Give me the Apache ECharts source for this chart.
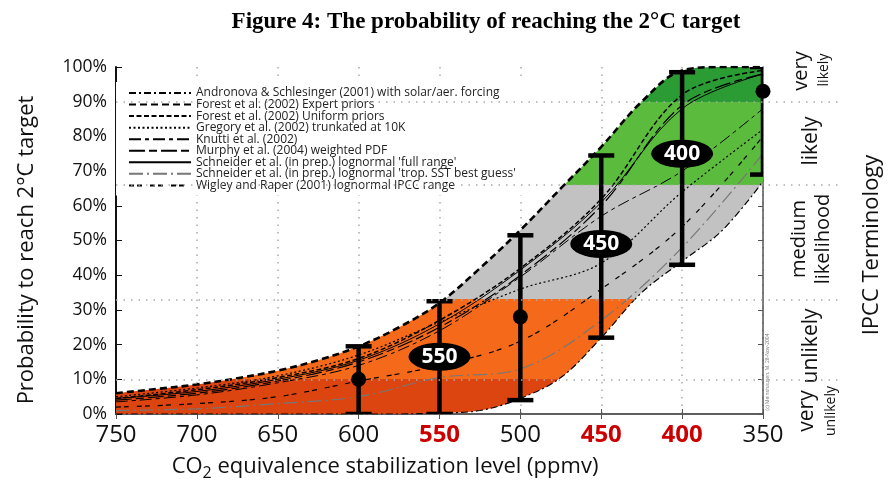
<!DOCTYPE html>
<html>
<head>
<meta charset="utf-8">
<title>Probability of reaching the 2°C target</title>
<script src="https://cdn.jsdelivr.net/npm/echarts@6/dist/echarts.min.js"></script>
<style>
  html, body { margin: 0; padding: 0; background: #fff; }
  #chart { width: 892px; height: 481px; }
</style>
</head>
<body>
<div id="chart"></div>
<script>
// CO2-eq stabilization levels (ppmv), x axis runs 750 -> 350
const envLevels = [750, 725, 700, 675, 650, 625, 600, 575, 550, 525, 500, 475, 450, 425, 400, 375, 350]
// edges of the shaded range (%)
const envUpper = [6, 7.2, 8.5, 10.3, 12.5, 15.5, 19.5, 25, 32, 42, 53, 65, 77, 90, 99, 100, 100]
const envLower = [0, 0, 0, 0, 0, 0, 0, 0, 0.3, 1, 4.5, 10.5, 22, 35, 44, 53, 67]

// single studies, read every 50 ppmv
const levels = [750, 700, 650, 600, 550, 500, 450, 400, 350]
const forestUniform = [4.5, 7, 10.5, 16, 27, 42, 62, 92, 99]
const gregory = [5, 7.5, 11, 17, 26.5, 36, 43.5, 64, 82]
const knutti = [3.5, 5.5, 9, 14, 24, 39.5, 57, 70, 88]
const murphy = [4, 6, 9.5, 15, 25, 40, 60, 89, 98]
const schneiderFull = [4.5, 6.5, 10, 15.5, 26, 41.5, 61, 88, 98]
const schneiderSST = [1, 1.5, 3, 5, 10.5, 13, 27, 48, 75]
const wigley = [2, 3, 5, 9.5, 14, 21, 36, 54, 80]

// ranges marked with bars
const barLevels = [600, 550, 500, 450, 400, 350]
const barLow = [0, 0, 4, 22, 43, 69]
const barHigh = [19.5, 32.5, 51.5, 74.5, 98.5, 100]
const dotLevels = [600, 500, 350]
const dotValues = [10, 28, 93]
const tagLevels = [550, 450, 400]
const tagValues = [16.5, 49, 75]

const redLevels = [550, 450, 400]
const ipccThresholds = [10, 33, 66, 90]

const studyNames = [
  'Andronova & Schlesinger (2001) with solar/aer. forcing',
  'Forest et al. (2002) Expert priors',
  'Forest et al. (2002) Uniform priors',
  'Gregory et al. (2002) trunkated at 10K',
  'Knutti et al. (2002)',
  'Murphy et al. (2004) weighted PDF',
  "Schneider et al. (in prep.) lognormal 'full range'",
  "Schneider et al. (in prep.) lognormal 'trop. SST best guess'",
  'Wigley and Raper (2001) lognormal IPCC range'
]

const FONT = 'Open Sans'
const SMOOTH = 0.35
const pairs = (xs, ys) => xs.map((x, i) => [x, ys[i]])
// 概率放在第一维，堆叠才会沿 y 方向
const yFirst = (xs, ys) => xs.map((x, i) => [ys[i], x])

// 一条研究曲线
const studyLine = (name, xs, ys, type, width, color) => ({
  name,
  type: 'line',
  xAxisIndex: 0,
  yAxisIndex: 0,
  data: pairs(xs, ys),
  smooth: SMOOTH,
  symbol: 'none',
  silent: true,
  z: 3,
  lineStyle: { color: color || '#000', width: width, type: type }
})

// 竖排文字（右侧 IPCC 术语）
const sideText = (text, x, y, size) => ({
  type: 'text', x, y, rotation: Math.PI / 2,
  style: { text, fontFamily: FONT, fontSize: size, fill: '#111', align: 'center', verticalAlign: 'middle' }
})

const chart = echarts.init(document.getElementById('chart'))

const option = {
  animation: false,
  backgroundColor: '#fff',
  grid: [
    { left: 116, right: 129, top: 67, bottom: 67 },
    { left: 116, right: 52, top: 67, bottom: 67 }
  ],
  legend: {
    orient: 'vertical',
    left: 116,
    top: 82,
    padding: [5, 30, 4, 12],
    backgroundColor: '#fff',
    itemWidth: 62,
    itemHeight: 8,
    itemGap: -0.45,
    itemStyle: { opacity: 0 },
    textStyle: { fontFamily: FONT, fontSize: 12, color: '#222', lineHeight: 10 },
    data: studyNames
  },
  xAxis: [
    {
      gridIndex: 0, type: 'value', min: 350, max: 750, interval: 50, inverse: true,
      axisLine: { lineStyle: { color: '#555', width: 1.5 } },
      axisTick: { inside: true, length: 5, lineStyle: { color: '#555' } },
      axisLabel: {
        margin: 9,
        formatter: v => (redLevels.includes(v) ? '{r|' + v + '}' : '{n|' + v + '}'),
        rich: {
          n: { fontFamily: FONT, fontSize: 24, color: '#111' },
          r: { fontFamily: FONT, fontSize: 24, color: '#cc0000', fontWeight: 'bold' }
        }
      },
      splitLine: { show: true, lineStyle: { color: '#aaa', width: 1.5, type: [1.5, 6] } }
    },
    {
      gridIndex: 0, type: 'value', min: 350, max: 750, interval: 50, inverse: true, position: 'top',
      axisLine: { lineStyle: { color: '#555', width: 1.5 } },
      axisTick: { inside: true, length: 5, lineStyle: { color: '#555' } },
      axisLabel: { show: false },
      splitLine: { show: false }
    },
    { gridIndex: 1, type: 'value', min: 0, max: 1, show: false }
  ],
  yAxis: [
    {
      gridIndex: 0, type: 'value', min: 0, max: 100, interval: 10,
      axisLine: { show: true, lineStyle: { color: '#111', width: 2 } },
      axisTick: { show: true, inside: true, length: 6, lineStyle: { color: '#111' } },
      axisLabel: { formatter: '{value}%', fontFamily: FONT, fontSize: 17.5, color: '#111', margin: 9 },
      splitLine: { show: false }
    },
    {
      gridIndex: 0, type: 'value', min: 0, max: 100, interval: 10, position: 'right',
      axisLine: { show: true, lineStyle: { color: '#555', width: 1.5 } },
      axisTick: { show: true, inside: true, length: 5, lineStyle: { color: '#555' } },
      axisLabel: { show: false },
      splitLine: { show: false }
    },
    { gridIndex: 1, type: 'value', min: 0, max: 100, show: false }
  ],
  series: [
    // 阴影范围：下沿 + 差值堆叠
    {
      id: 'envBase', type: 'line', stack: 'env',
      data: yFirst(envLevels, envLower),
      encode: { x: 1, y: 0 },
      smooth: SMOOTH, symbol: 'none', silent: true, z: 2,
      lineStyle: { width: 0, opacity: 0 }
    },
    {
      id: 'envBand', type: 'line', stack: 'env',
      data: yFirst(envLevels, envUpper.map((v, i) => v - envLower[i])),
      encode: { x: 1, y: 0 },
      smooth: SMOOTH, symbol: 'none', silent: true, z: 2,
      lineStyle: { width: 0, opacity: 0 },
      areaStyle: { color: '#f46a1a', opacity: 1 }
    },
    studyLine(studyNames[0], envLevels, envLower, [7, 3, 2, 3], 1.2),
    studyLine(studyNames[1], envLevels, envUpper, [7, 4], 2.6),
    studyLine(studyNames[2], levels, forestUniform, [5, 2.5], 1.5),
    studyLine(studyNames[3], levels, gregory, [2, 2.5], 1.2),
    studyLine(studyNames[4], levels, knutti, [12, 4, 4, 4], 1),
    studyLine(studyNames[5], levels, murphy, [16, 4, 8, 4], 1.2),
    studyLine(studyNames[6], levels, schneiderFull, 'solid', 1),
    studyLine(studyNames[7], levels, schneiderSST, [14, 4, 2, 4], 1.2, '#777'),
    studyLine(studyNames[8], levels, wigley, [5, 3, 5, 8], 1.2),
    // 误差棒
    {
      type: 'custom',
      xAxisIndex: 0,
      yAxisIndex: 0,
      clip: true,
      silent: true,
      z: 4,
      data: barLevels.map((x, i) => [x, barLow[i], barHigh[i]]),
      renderItem: (params, api) => {
        const lo = api.coord([api.value(0), api.value(1)])
        const hi = api.coord([api.value(0), api.value(2)])
        const half = 13
        const style = { stroke: '#000', lineWidth: 4.5 }
        return {
          type: 'group',
          children: [
            { type: 'line', shape: { x1: lo[0], y1: lo[1], x2: hi[0], y2: hi[1] }, style },
            { type: 'line', shape: { x1: hi[0] - half, y1: hi[1], x2: hi[0] + half, y2: hi[1] }, style },
            { type: 'line', shape: { x1: lo[0] - half, y1: lo[1], x2: lo[0] + half, y2: lo[1] }, style }
          ]
        }
      }
    },
    {
      type: 'scatter', xAxisIndex: 0, yAxisIndex: 0, silent: true, z: 5,
      data: pairs(dotLevels, dotValues),
      symbol: 'circle', symbolSize: 15,
      itemStyle: { color: '#000', opacity: 1 }
    },
    {
      type: 'scatter', xAxisIndex: 0, yAxisIndex: 0, silent: true, z: 6,
      data: pairs(tagLevels, tagValues),
      symbol: 'circle', symbolSize: [62, 28],
      itemStyle: { color: '#000', opacity: 1 },
      label: {
        show: true, position: 'inside',
        formatter: p => String(p.value[0]),
        color: '#fff', fontFamily: FONT, fontWeight: 'bold', fontSize: 21
      }
    },
    // IPCC 阈值虚线（延伸到右侧术语区）
    {
      type: 'line', xAxisIndex: 2, yAxisIndex: 2, data: [], silent: true, z: 1,
      markLine: {
        silent: true,
        symbol: ['none', 'none'],
        label: { show: false },
        lineStyle: { color: '#aaa', width: 1.5, type: [1.5, 6] },
        data: ipccThresholds.map(v => ({ yAxis: v }))
      }
    }
  ],
  graphic: [
    {
      type: 'text', x: 486, y: 22,
      style: { text: 'Figure 4: The probability of reaching the 2°C target', fontFamily: 'Liberation Serif', fontWeight: 'bold', fontSize: 23, fill: '#000', align: 'center', verticalAlign: 'middle' }
    },
    {
      type: 'text', x: 385, y: 467,
      style: {
        text: '{n|CO}{s|2}{n| equivalence stabilization level (ppmv)}',
        align: 'center', verticalAlign: 'middle',
        rich: {
          n: { fontFamily: FONT, fontSize: 22, fill: '#111' },
          s: { fontFamily: FONT, fontSize: 16, fill: '#111', padding: [12, 0, 0, 0] }
        }
      }
    },
    sideText('Probability to reach 2°C target', 27, 250, 22),
    sideText('very', 801, 71, 20),
    sideText('likely', 824, 70, 14),
    sideText('likely', 811, 141, 21),
    sideText('medium', 799, 239, 20),
    sideText('likelihood', 823, 239, 20),
    sideText('unlikely', 811, 346, 21),
    sideText('very', 807, 411, 21),
    sideText('unlikely', 831, 411, 14),
    sideText('IPCC Terminology', 872, 245, 22),
    {
      type: 'text', x: 768, y: 372, rotation: Math.PI / 2,
      style: { text: '(c) Meinshausen, M. 28-Nov-2004', fontFamily: FONT, fontSize: 5, fill: '#777', align: 'center', verticalAlign: 'middle' }
    }
  ]
}

chart.setOption(option)

// 按概率区间着色：用坐标轴换算出 0% 和 100% 的像素位置
const yBottom = chart.convertToPixel({ yAxisIndex: 0 }, 0)
const yTop = chart.convertToPixel({ yAxisIndex: 0 }, 100)
const off = v => (100 - v) / 100
const bands = [
  [100, 90, '#2b9b34'],
  [90, 66, '#5bbb3c'],
  [66, 33, '#c2c2c2'],
  [33, 10, '#f46a1a'],
  [10, 0, '#dc4410']
]
const stops = []
bands.forEach(([hi, lo, color]) => {
  stops.push({ offset: off(hi), color }, { offset: off(lo), color })
})
chart.setOption({
  series: [{ id: 'envBand', areaStyle: { color: new echarts.graphic.LinearGradient(0, yTop, 0, yBottom, stops, true), opacity: 1 } }]
})
</script>
</body>
</html>
